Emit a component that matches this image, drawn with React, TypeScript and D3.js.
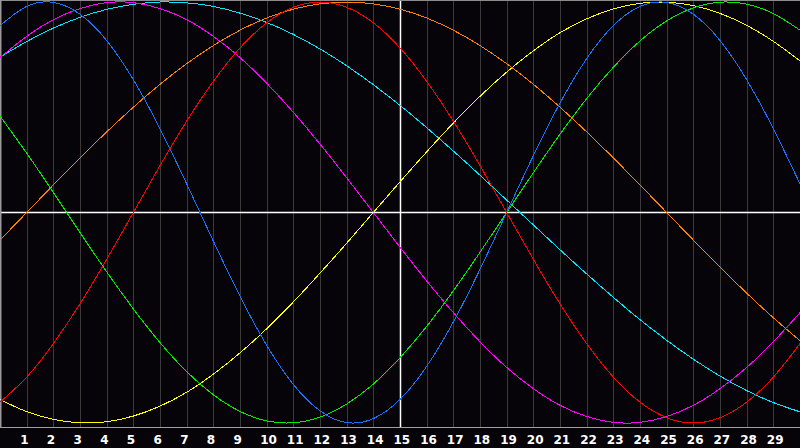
import React from 'react'
import * as d3 from 'd3'

// day index 0..30 (day labels 1..29 sit on the inner grid lines)
const days = d3.range(0, 31)
const dayLabels = d3.range(1, 30)

// values, -100 (bottom) .. 100 (top)
const red = [-90.1, -78.2, -62.3, -43.4, -22.3, 0, 22.3, 43.4, 62.3, 78.2, 90.1, 97.5, 100, 97.5, 90.1, 78.2, 62.3, 43.4, 22.3, 0, -22.3, -43.4, -62.3, -78.2, -90.1, -97.5, -100, -97.5, -90.1, -78.2, -62.3]
const green = [45.8, 28.2, 9.5, -9.5, -28.2, -45.8, -61.8, -75.6, -86.6, -94.5, -99.0, -99.9, -97.2, -91.0, -81.5, -69.0, -54.1, -37.2, -18.9, 0, 18.9, 37.2, 54.1, 69.0, 81.5, 91.0, 97.2, 99.9, 99.0, 94.5, 86.6]
const blue = [88.8, 97.9, 99.8, 94.2, 81.7, 63.1, 39.8, 13.6, -13.6, -39.8, -63.1, -81.7, -94.2, -99.8, -97.9, -88.8, -73.1, -52.0, -27.0, 0, 27.0, 52.0, 73.1, 88.8, 97.9, 99.8, 94.2, 81.7, 63.1, 39.8, 13.6]
const yellow = [-88.9, -94.6, -98.3, -99.9, -99.4, -96.7, -92.0, -85.4, -76.8, -66.7, -55.2, -42.5, -28.8, -14.6, 0, 14.6, 28.8, 42.5, 55.2, 66.7, 76.8, 85.4, 92.0, 96.7, 99.4, 99.9, 98.3, 94.6, 88.9, 81.3, 72.0]
const magenta = [73.6, 83.7, 91.6, 96.9, 99.7, 99.7, 96.9, 91.6, 83.7, 73.6, 61.4, 47.6, 32.5, 16.5, 0, -16.5, -32.5, -47.6, -61.4, -73.6, -83.7, -91.6, -96.9, -99.7, -99.7, -96.9, -91.6, -83.7, -73.6, -61.4, -47.6]
const cyan = [73.8, 81.2, 87.6, 92.7, 96.5, 98.9, 100.0, 99.6, 97.9, 94.7, 90.3, 84.6, 77.7, 69.7, 60.7, 50.9, 40.3, 29.2, 17.7, 5.9, -5.9, -17.7, -29.2, -40.3, -50.9, -60.7, -69.7, -77.7, -84.6, -90.3, -94.7]
const orange = [-13.1, 0, 13.1, 25.9, 38.3, 50.0, 60.9, 70.7, 79.3, 86.6, 92.4, 96.6, 99.1, 100, 99.1, 96.6, 92.4, 86.6, 79.3, 70.7, 60.9, 50.0, 38.3, 25.9, 13.1, 0, -13.1, -25.9, -38.3, -50.0, -60.9]

const seriesList = [
  { name: 'cyan', color: '#00e8ff', values: cyan },
  { name: 'magenta', color: '#ff00ff', values: magenta },
  { name: 'yellow', color: '#ffff00', values: yellow },
  { name: 'orange', color: '#ff8000', values: orange },
  { name: 'green', color: '#00ee00', values: green },
  { name: 'blue', color: '#1a73ff', values: blue },
  { name: 'red', color: '#ff0000', values: red },
]

const W = 800
const H = 448
const plotBottom = 428

const App: React.FC = () => {
  const x = d3.scaleLinear().domain([0, 30]).range([0, W])
  const y = d3.scaleLinear().domain([-100, 100]).range([423, 2])

  const line = d3.line<number>()
    .x((_, i) => x(days[i]))
    .y(v => y(v))
    .curve(d3.curveNatural)

  return (
    <div>
      <style>{'body{margin:0;background:#060408}'}</style>
      <svg width={W} height={H} style={{ display: 'block', background: '#060408' }}>
        <defs>
          <clipPath id="plot">
            <rect x={0} y={0} width={W} height={plotBottom} />
          </clipPath>
        </defs>

        {/* grid */}
        {dayLabels.map(d => (
          <line
            key={d}
            x1={Math.round(x(d)) + 0.5}
            x2={Math.round(x(d)) + 0.5}
            y1={1}
            y2={plotBottom}
            stroke={d === 15 ? '#ffffff' : '#3a3a3a'}
            strokeWidth={d === 15 ? 1.5 : 1}
          />
        ))}
        <line x1={0} x2={W} y1={y(0)} y2={y(0)} stroke="#ffffff" strokeWidth={1.5} />

        {/* frame */}
        <line x1={0} x2={W} y1={0.5} y2={0.5} stroke="#8c8c8c" strokeWidth={1} />
        <line x1={0.75} x2={0.75} y1={0} y2={plotBottom} stroke="#9a9a9a" strokeWidth={1.5} />
        <line x1={0} x2={W} y1={plotBottom - 0.5} y2={plotBottom - 0.5} stroke="#a0a0a0" strokeWidth={1.2} />

        {/* curves */}
        <g clipPath="url(#plot)">
          {seriesList.map(s => (
            <path
              key={s.name}
              d={line(s.values) || ''}
              fill="none"
              stroke={s.color}
              strokeWidth={1}
              shapeRendering="crispEdges"
            />
          ))}
        </g>

        {/* day labels */}
        {dayLabels.map(d => (
          <text
            key={d}
            x={x(d) - 6.5}
            y={443.5}
            fill="#ffffff"
            fontFamily="'DejaVu Sans', sans-serif"
            fontWeight="bold"
            fontSize={12}
          >
            {d}
          </text>
        ))}
      </svg>
    </div>
  )
}

export default App
